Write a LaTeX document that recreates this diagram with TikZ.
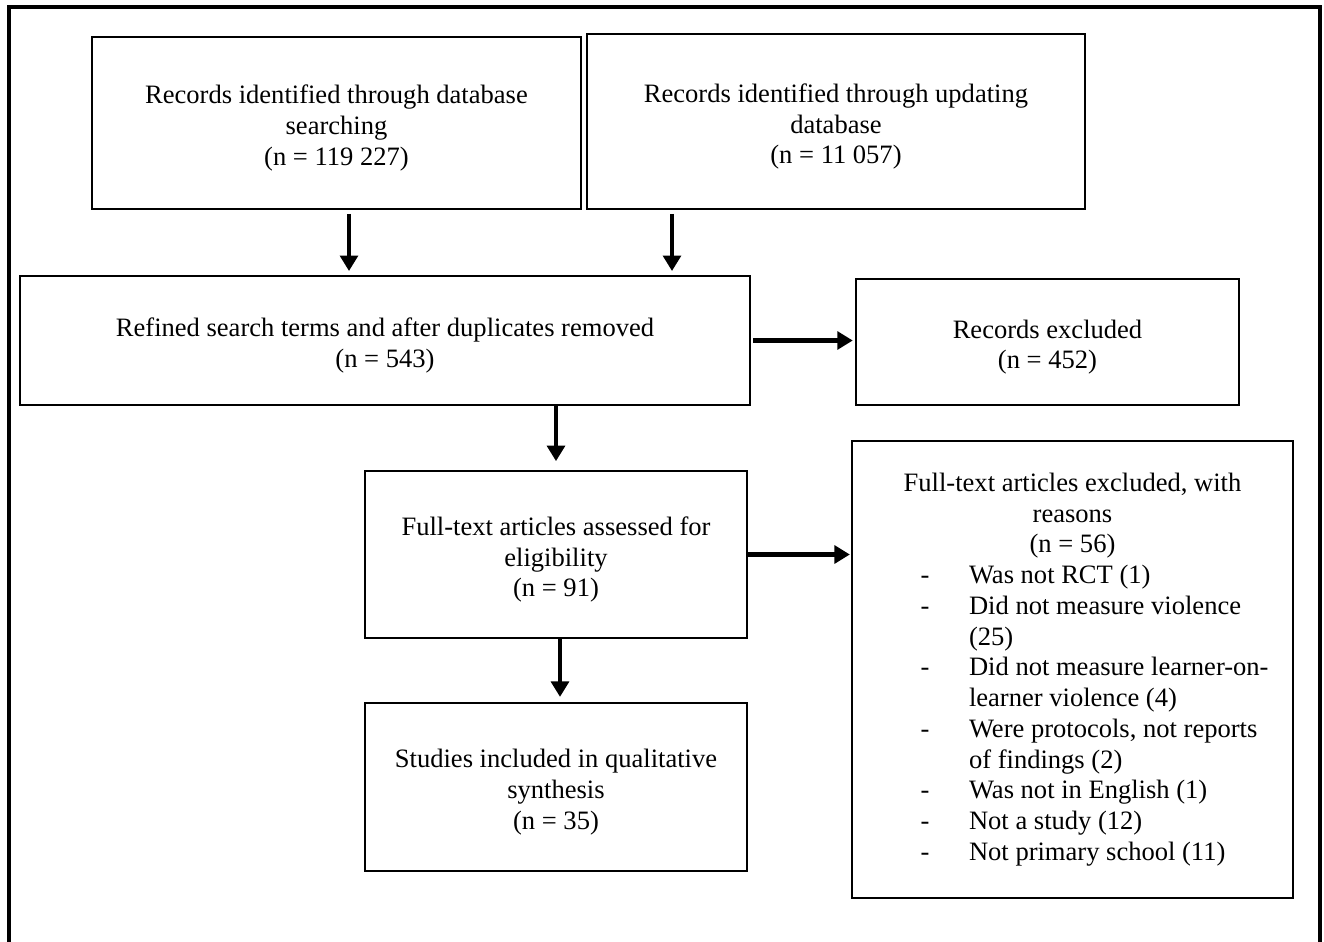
\documentclass[tikz,border=0pt]{standalone}
\usepackage{fontspec}
\setmainfont{Liberation Serif}
\usetikzlibrary{arrows.meta,calc}
\def\S{0.452}
\def\U{pt}
\newcommand\reason[2]{\makebox[\hsize][l]{\hspace*{31pt}\makebox[21.9pt][l]{#1}#2}}

\begin{document}
\begin{tikzpicture}[x=\S\U,y=-\S\U,
    box/.style={draw,line width=0.9pt,align=flush center,inner sep=0pt,font=\fontsize{12}{13.9}\selectfont},
    sz/.style 2 args={minimum width=#1*\S\U,text width=#1*\S\U,minimum height=#2*\S\U},
    lowered/.style={execute at begin node={\rule{0pt}{13pt}}},
    arr/.style={line width=2.1pt,-{Triangle[length=7pt,width=8pt]}}]
\useasboundingbox (0,0) rectangle (1324,942);
\fill[white] (0,0) rectangle (1324,942);
\draw[line width=4*\S\U] (9,950) -- (9,7) -- (1320,7) -- (1320,950);

\node[box,lowered,sz={489}{172}] (dbsearch) at (336.5,123)
    {Records identified through database\\searching\\(n = 119 227)};
\node[box,lowered,sz={498}{175}] (update) at (836,121.5)
    {Records identified through updating\\database\\(n = 11 057)};
\node[box,lowered,sz={730}{129}] (refined) at (385,340.5)
    {Refined search terms and after duplicates removed\\(n = 543)};
\node[box,lowered,sz={383}{126}] (excluded) at (1047.5,342)
    {Records excluded\\(n = 452)};
\node[box,lowered,sz={382}{167}] (fulltext) at (556,554.5)
    {Full-text articles assessed for\\eligibility\\(n = 91)};
\node[box,lowered,sz={382}{168}] (studies) at (556,787)
    {Studies included in qualitative\\synthesis\\(n = 35)};
\node[box,sz={441}{457}] (reasons) at (1072.5,669.5)
    {Full-text articles excluded, with\\reasons\\(n = 56)\\
    \reason{-}{Was not RCT (1)}\\
    \reason{-}{Did not measure violence}\\
    \reason{}{(25)}\\
    \reason{-}{Did not measure learner-on-}\\
    \reason{}{learner violence (4)}\\
    \reason{-}{Were protocols, not reports}\\
    \reason{}{of findings (2)}\\
    \reason{-}{Was not in English (1)}\\
    \reason{-}{Not a study (12)}\\
    \reason{-}{Not primary school (11)}};

% arrows
\coordinate (a1) at ($(dbsearch.south)+(12.5,0)$);
\coordinate (b1) at ($(update.south)+(-164,0)$);
\draw[arr,shorten <=1.8pt,shorten >=1.8pt] (a1) -- (a1 |- refined.north);
\draw[arr,shorten <=1.8pt,shorten >=1.8pt] (b1) -- (b1 |- refined.north);
\draw[arr,shorten <=1pt,shorten >=1pt] (refined.east) -- (refined.east -| excluded.west);
\draw[arr,shorten >=4pt] (fulltext.north |- refined.south) -- (fulltext.north);
\draw[arr,shorten >=2.3pt] ($(fulltext.south)+(4,0)$) -- ($(studies.north)+(4,0)$);
\draw[arr,shorten >=0.5pt] (fulltext.east) -- (fulltext.east -| reasons.west);
\end{tikzpicture}
\end{document}
